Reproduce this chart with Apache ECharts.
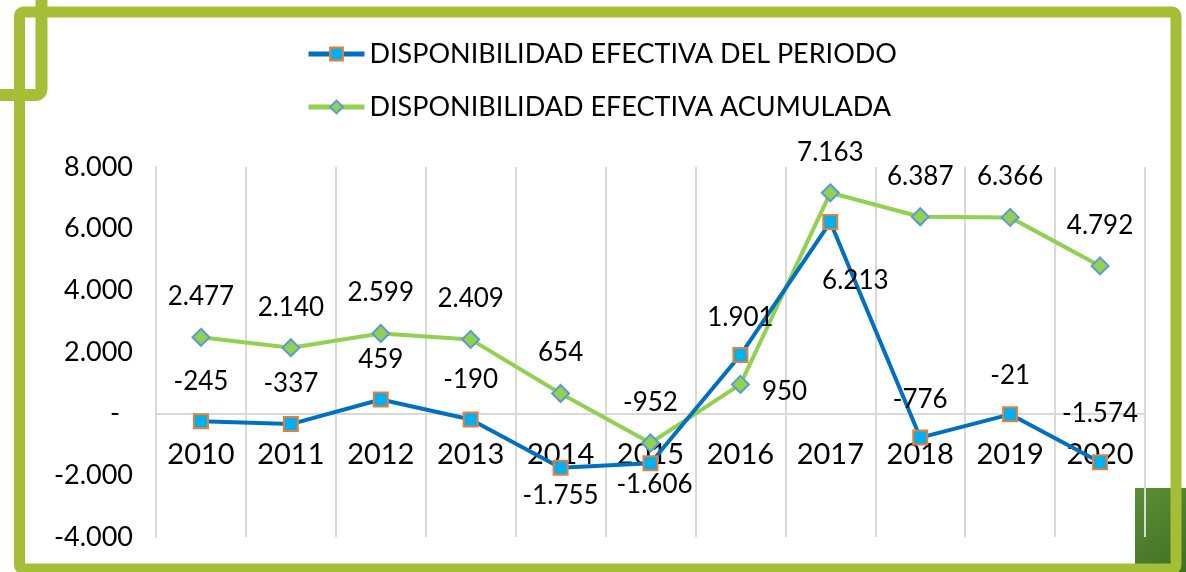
<!DOCTYPE html>
<html>
<head>
<meta charset="utf-8">
<script src="https://cdn.jsdelivr.net/npm/echarts@6/dist/echarts.min.js"></script>
<style>
  html, body { margin: 0; padding: 0; background: #fff; }
  #chart { width: 1186px; height: 572px; }
</style>
</head>
<body>
<div id="chart"></div>
<script>
const years = ['2010', '2011', '2012', '2013', '2014', '2015', '2016', '2017', '2018', '2019', '2020']
const periodo = [-245, -337, 459, -190, -1755, -1606, 1901, 6213, -776, -21, -1574]
const acumulada = [2477, 2140, 2599, 2409, 654, -952, 950, 7163, 6387, 6366, 4792]
const yTicks = [-4000, -2000, 0, 2000, 4000, 6000, 8000]

const FONT = 'Lato, "Noto Sans", sans-serif'

// 1234 -> "1.234"
const fmt = v => {
  const s = Math.abs(v).toString().replace(/\B(?=(\d{3})+(?!\d))/g, '.')
  return (v < 0 ? '-' : '') + s
}

// label placement per point
const periodoLabel = [
  { position: 'top', distance: 19 },
  { position: 'top', distance: 19 },
  { position: 'top', distance: 19 },
  { position: 'top', distance: 19 },
  { position: 'bottom', distance: 7 },
  { position: 'bottom', distance: 0, offset: [4, 0] },
  { position: 'top', distance: 16 },
  { position: 'bottom', distance: 38, offset: [25, 0] },
  { position: 'top', distance: 17 },
  { position: 'top', distance: 18 },
  { position: 'top', distance: 28 }
]
const acumLabel = years.map((y, i) => {
  if (i === 6) return { position: 'right', distance: 12, offset: [0, 7] }
  return { position: 'top', distance: 18 }
})

const GRID_TOP = 167
const GRID_BOTTOM = 35
const plotH = 572 - GRID_TOP - GRID_BOTTOM
// pixel distance from the bottom of the plot up to the zero line
const zeroShift = plotH * (0 - yTicks[0]) / (yTicks[yTicks.length - 1] - yTicks[0])

const chart = echarts.init(document.getElementById('chart'))

chart.setOption({
  animation: false,
  textStyle: { fontFamily: FONT },
  legend: {
    orient: 'vertical',
    left: 301,
    top: 35,
    itemWidth: 56,
    itemHeight: 16,
    itemGap: 25,
    lineStyle: { width: 5 },
    textStyle: { fontSize: 27, color: '#000', fontFamily: FONT, lineHeight: 28 },
    data: ['DISPONIBILIDAD EFECTIVA DEL PERIODO', 'DISPONIBILIDAD EFECTIVA ACUMULADA']
  },
  grid: {
    left: 156, right: 41, top: GRID_TOP, bottom: GRID_BOTTOM,
    containLabel: false, outerBoundsMode: 'none'
  },
  xAxis: {
    type: 'category',
    data: years,
    offset: -zeroShift,
    axisLine: { onZero: false, lineStyle: { color: '#d9d9d9', width: 2 } },
    axisTick: { show: false },
    axisLabel: { fontSize: 29, color: '#000', margin: 26, fontFamily: FONT },
    splitLine: { show: true, lineStyle: { color: '#d9d9d9', width: 2 } }
  },
  yAxis: {
    type: 'value',
    min: yTicks[0],
    max: yTicks[yTicks.length - 1],
    interval: 2000,
    axisLine: { show: true, lineStyle: { color: '#d9d9d9', width: 2 } },
    axisTick: { show: false },
    splitLine: { show: false },
    axisLabel: {
      fontSize: 27,
      color: '#000',
      margin: 23,
      fontFamily: FONT,
      formatter: v => (v === 0 ? '{d|-}' : '{n|' + fmt(v) + '}'),
      rich: {
        n: { fontSize: 27, color: '#000', fontFamily: FONT },
        d: { fontSize: 27, color: '#000', padding: [0, 13, 0, 0], fontFamily: FONT }
      }
    }
  },
  graphic: [
    {
      type: 'rect', z: -10,
      shape: { x: 1135, y: 488, width: 60, height: 90 },
      style: {
        fill: new echarts.graphic.LinearGradient(0, 0, 1, 1, [
          { offset: 0, color: '#5b8f35' },
          { offset: 1, color: '#3e6b22' }
        ])
      }
    },
    {
      type: 'rect', z: 100, silent: true,
      shape: { x: 19.5, y: 12, width: 1156.5, height: 557, r: 4 },
      style: { fill: 'none', stroke: '#a4bf35', lineWidth: 11 }
    },
    {
      type: 'rect', z: 100, silent: true,
      shape: { x: -60, y: -60, width: 101.5, height: 155, r: 6 },
      style: { fill: 'none', stroke: '#a4bf35', lineWidth: 12 }
    }
  ],
  series: [
    {
      name: 'DISPONIBILIDAD EFECTIVA DEL PERIODO',
      type: 'line',
      data: periodo.map((v, i) => ({ value: v, label: periodoLabel[i] })),
      symbol: 'rect',
      symbolSize: 14,
      lineStyle: { color: '#0070c0', width: 4 },
      itemStyle: { color: '#00b0f0', borderColor: '#ed7d31', borderWidth: 2 },
      label: {
        show: true,
        fontSize: 26,
        color: '#000',
        fontFamily: FONT,
        formatter: p => fmt(p.value)
      },
      z: 3
    },
    {
      name: 'DISPONIBILIDAD EFECTIVA ACUMULADA',
      type: 'line',
      data: acumulada.map((v, i) => ({ value: v, label: acumLabel[i] })),
      symbol: 'diamond',
      symbolSize: 17,
      lineStyle: { color: '#92d050', width: 4 },
      itemStyle: { color: '#92d050', borderColor: '#5b9bd5', borderWidth: 2 },
      label: {
        show: true,
        fontSize: 26,
        color: '#000',
        fontFamily: FONT,
        formatter: p => fmt(p.value)
      },
      z: 2
    }
  ]
})
</script>
</body>
</html>
